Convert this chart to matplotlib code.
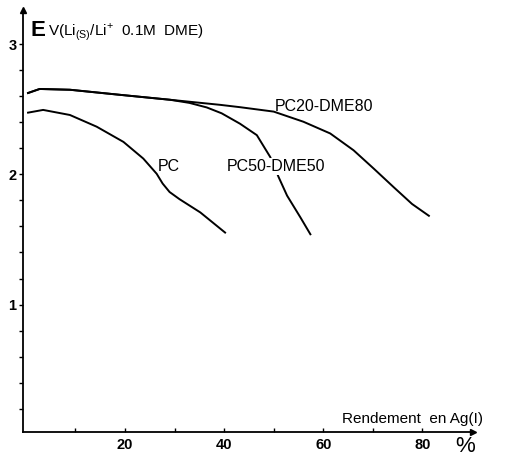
import matplotlib.pyplot as plt

plt.rcParams['font.family'] = ['Liberation Sans', 'DejaVu Sans']
plt.rcParams['mathtext.fontset'] = 'custom'
plt.rcParams['mathtext.rm'] = 'Liberation Sans'

# courbes de décharge (rendement en %, tension en V)
x_pc = [0.46, 3.5, 8.9, 14.3, 19.7, 23.7, 26.4, 27.6, 29.0, 31.0, 35.2, 40.2]
e_pc = [2.475, 2.496, 2.457, 2.367, 2.250, 2.122, 2.005, 1.93, 1.865, 1.81, 1.708, 1.553]

x_pc50 = [0.46, 2.8, 8.9, 19.0, 29.1, 33.0, 36.5, 39.5, 43.2, 46.6, 49.3, 51.0, 52.7, 55.4, 57.4]
e_pc50 = [2.626, 2.657, 2.651, 2.612, 2.574, 2.55, 2.515, 2.47, 2.39, 2.302, 2.134, 1.979, 1.837, 1.669, 1.540]

x_pc20 = [0.46, 2.8, 8.9, 19.0, 29.1, 39.2, 43.2, 50.0, 56.0, 61.4, 66.1, 70.2, 74.2, 77.9, 81.3]
e_pc20 = [2.626, 2.657, 2.651, 2.612, 2.574, 2.535, 2.517, 2.483, 2.405, 2.315, 2.186, 2.044, 1.902, 1.773, 1.682]

x_ticks = [20, 40, 60, 80]
y_ticks = [1, 2, 3]


def main():
    fig = plt.figure(figsize=(5.21, 4.57), dpi=100)
    ax = fig.add_axes([0.0451, 0.0547, 0.8628, 0.9234])

    for xs, es in [(x_pc, e_pc), (x_pc50, e_pc50), (x_pc20, e_pc20)]:
        ax.plot(xs, es, color='k', lw=1.4, solid_joinstyle='round')

    ax.set_xlim(-0.46, 90.2)
    ax.set_ylim(0.02, 3.264)

    for s in ['top', 'right']:
        ax.spines[s].set_visible(False)
    for s in ['left', 'bottom']:
        ax.spines[s].set_linewidth(1.3)

    # flèches au bout des axes
    ax.plot(1, 0, marker='>', ms=5, color='k', transform=ax.transAxes, clip_on=False)
    ax.plot(0, 1, marker='^', ms=5, color='k', transform=ax.transAxes, clip_on=False)

    ax.set_xticks(range(10, 90, 10))
    ax.set_xticklabels([str(v) if v in x_ticks else '' for v in range(10, 90, 10)],
                       fontweight='bold', fontsize=10.5)
    ax.tick_params(axis='x', direction='in', length=3, width=1, pad=4)

    yt = [round(0.2 * i, 1) for i in range(1, 16)]
    ax.set_yticks(yt)
    ax.set_yticklabels([str(int(v)) if v in y_ticks else '' for v in yt],
                       fontweight='bold', fontsize=10.5)
    ax.tick_params(axis='y', direction='out', length=3, width=1, pad=2)

    # étiquettes des courbes
    ax.text(26.7, 2.06, 'PC', fontsize=11.5, ha='left', va='center')
    ax.text(40.5, 2.06, 'PC50-DME50', fontsize=11.5, ha='left', va='center',
            bbox=dict(facecolor='white', edgecolor='none', pad=0.5))
    ax.text(50.3, 2.52, 'PC20-DME80', fontsize=11.5, ha='left', va='center')

    # titre de l'axe y
    fig.text(31 / 521, 1 - 30 / 457, 'E', fontsize=16, fontweight='bold', ha='left', va='center')
    fig.text(48 / 521, 1 - 32 / 457, r'V(Li$_{\mathrm{(S)}}$/Li$^{+}$  0.1M  DME)', fontsize=11,
             ha='left', va='center')

    # titre de l'axe x
    fig.text(342 / 521, 1 - 419 / 457, 'Rendement  en Ag(I)', fontsize=11, ha='left', va='center')
    fig.text(465 / 521, 1 - 447 / 457, '%', fontsize=16, ha='center', va='center')

    fig.savefig('out.png', dpi=100)


if __name__ == "__main__":
    main()
